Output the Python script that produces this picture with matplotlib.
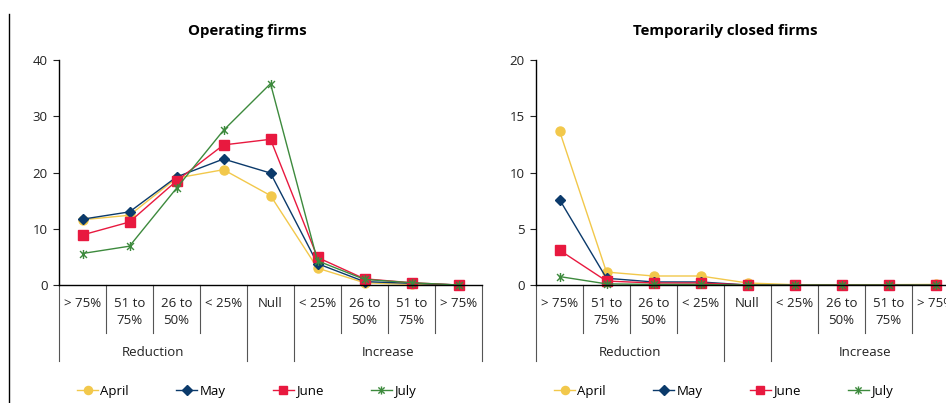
import numpy as np
import matplotlib.pyplot as plt
from matplotlib.path import Path
from matplotlib.transforms import blended_transform_factory

plt.rcParams['font.family'] = ['Open Sans', 'DejaVu Sans']

sub_labels = ['> 75%', '51 to\n75%', '26 to\n50%', '< 25%', 'Null',
              '< 25%', '26 to\n50%', '51 to\n75%', '> 75%']
groups = [('Reduction', 0, 4), ('', 4, 5), ('Increase', 5, 9)]
months = ['April', 'May', 'June', 'July']

operating = {
    'April': [11.6, 12.4, 19.0, 20.5, 15.9, 3.0, 0.4, 0.1, 0.0],
    'May':   [11.7, 13.0, 19.2, 22.4, 19.9, 3.8, 0.6, 0.3, 0.0],
    'June':  [8.9, 11.2, 18.5, 24.9, 25.9, 4.9, 1.1, 0.4, 0.0],
    'July':  [5.6, 6.9, 17.2, 27.5, 35.8, 4.3, 1.0, 0.4, 0.0],
}
closed = {
    'April': [13.7, 1.15, 0.8, 0.8, 0.18, 0.03, 0.03, 0.03, 0.05],
    'May':   [7.6, 0.6, 0.27, 0.27, 0.0, 0.0, 0.0, 0.0, 0.0],
    'June':  [3.1, 0.35, 0.18, 0.18, 0.0, 0.0, 0.0, 0.0, 0.0],
    'July':  [0.75, 0.1, 0.05, 0.05, 0.0, 0.0, 0.0, 0.0, 0.0],
}

# asterisk marker like the spreadsheet "star"
star = Path([(-1, -1), (1, 1), (-1, 1), (1, -1), (0, -1.3), (0, 1.3)],
            [Path.MOVETO, Path.LINETO, Path.MOVETO, Path.LINETO, Path.MOVETO, Path.LINETO])

styles = {
    'April': dict(color='#F2C84B', marker='o', ms=6.5),
    'May':   dict(color='#0B3A6B', marker='D', ms=5.5),
    'June':  dict(color='#E8193F', marker='s', ms=6.5),
    'July':  dict(color='#3D8A3D', marker=star, ms=6.5, mew=1.0),
}

W, H = 946, 403
fig = plt.figure(figsize=(W / 100, H / 100), dpi=100)


def px(x0, y_top, w, h):
    return [x0 / W, 1 - (y_top + h) / H, w / W, h / H]


def panel(rect, data, title, ymax, ystep, legend_x, title_x):
    ax = fig.add_axes(rect)
    x = np.arange(len(sub_labels))
    for m in months:
        st = styles[m]
        ax.plot(x, data[m], lw=1.0, label=m, clip_on=False, **st)
    ax.set_xlim(-0.5, len(sub_labels) - 0.5)
    ax.set_ylim(0, ymax)
    ax.set_yticks(np.arange(0, ymax + 0.1, ystep))
    ax.tick_params(axis='y', length=4, width=0.8, labelsize=9.5, colors='#222222', pad=4)
    ax.set_xticks([])
    for s in ['top', 'right']:
        ax.spines[s].set_visible(False)
    for s in ['left', 'bottom']:
        ax.spines[s].set_linewidth(1.0)
    fig.text(title_x / W, 1 - 31 / H, title, fontsize=10.8, fontweight='bold',
             ha='center', va='center')

    tr = blended_transform_factory(ax.transData, ax.transAxes)
    ah = rect[3] * H
    inner_end = -48 / ah
    group_end = -76 / ah
    bounds = {g[1] for g in groups} | {g[2] for g in groups}
    for b in range(len(sub_labels) + 1):
        end = group_end if b in bounds else inner_end
        ax.plot([b - 0.5, b - 0.5], [0, end], color='#555555', lw=0.8,
                transform=tr, clip_on=False)
    for i, lab in enumerate(sub_labels):
        ax.text(i, -12 / ah, lab, transform=tr, ha='center', va='top',
                fontsize=9.5, color='#222222', linespacing=1.45)
    for name, a, b in groups:
        if name:
            ax.text((a + b - 1) / 2, -67 / ah, name, transform=tr, ha='center',
                    va='center', fontsize=9.5, color='#222222')
    handles, labels = ax.get_legend_handles_labels()
    fig.legend(handles, labels, loc='center left', bbox_to_anchor=(legend_x / W, 1 - 391 / H),
               ncol=4, frameon=False, fontsize=9.5, handlelength=1.6, handletextpad=0.15,
               columnspacing=3.6, borderpad=0, borderaxespad=0, markerscale=0.9)
    return ax


panel(px(59, 60, 423, 225), operating, 'Operating firms', 40, 10, 77, 247)
panel(px(536, 60, 423, 225), closed, 'Temporarily closed firms', 20, 5, 554, 725)

fig.add_artist(plt.Line2D([9 / W, 9 / W], [0, 1 - 14 / H], color='black', lw=1.0))

fig.savefig('out.png', dpi=100)
